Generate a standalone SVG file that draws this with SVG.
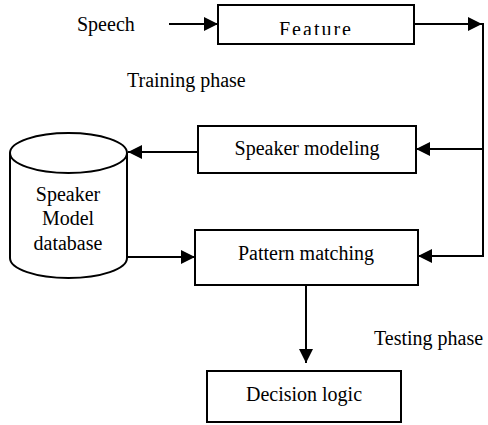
<svg xmlns="http://www.w3.org/2000/svg" width="488" height="425" viewBox="0 0 488 425">
  <style>
    .box { fill: #fff; stroke: #000; stroke-width: 2; }
    .wire { fill: none; stroke: #000; stroke-width: 2; }
    .lbl { font-family: "Liberation Serif", "Times New Roman", serif; font-size: 20px; fill: #000; }
    .mid { text-anchor: middle; }
  </style>
  <defs>
    <marker id="arrow" viewBox="0 0 14 14" refX="14" refY="7" markerWidth="14" markerHeight="14" markerUnits="userSpaceOnUse" orient="auto">
      <path d="M0,0 L14,7 L0,14 Z" fill="#000"/>
    </marker>
    <clipPath id="featureClip">
      <rect x="219" y="6" width="194" height="29"/>
    </clipPath>
  </defs>
  <rect width="488" height="425" fill="#fff"/>

  <!-- free labels -->
  <text class="lbl" x="77" y="31">Speech</text>
  <text class="lbl" x="127" y="87">Training phase</text>
  <text class="lbl" x="374" y="345">Testing phase</text>

  <g id="connectors">
    <line class="wire" x1="169" y1="24" x2="218" y2="24" marker-end="url(#arrow)"/>
    <line class="wire" x1="414" y1="24" x2="482" y2="24" marker-end="url(#arrow)"/>
    <line class="wire" x1="483" y1="23" x2="483" y2="257"/>
    <line class="wire" x1="484" y1="149" x2="416" y2="149" marker-end="url(#arrow)"/>
    <line class="wire" x1="484" y1="256" x2="418" y2="256" marker-end="url(#arrow)"/>
    <line class="wire" x1="198" y1="152" x2="128" y2="152" marker-end="url(#arrow)"/>
    <line class="wire" x1="128" y1="257" x2="195" y2="257" marker-end="url(#arrow)"/>
    <line class="wire" x1="306" y1="285" x2="306" y2="363" marker-end="url(#arrow)"/>
  </g>

  <g id="feature">
    <rect class="box" x="218" y="5" width="196" height="39"/>
    <text class="lbl mid" x="316" y="36" letter-spacing="2" clip-path="url(#featureClip)">Feature</text>
  </g>

  <g id="speaker-modeling">
    <rect class="box" x="198" y="126" width="218" height="47"/>
    <text class="lbl mid" x="307" y="155">Speaker modeling</text>
  </g>

  <g id="model-database">
    <path class="box" d="M10,153 L10,258 A58.5,20 0 0 0 127,258 L127,153 A58.5,20 0 0 0 10,153 Z"/>
    <path class="wire" d="M10,153 A58.5,20 0 0 0 127,153"/>
    <text class="lbl mid" x="68" y="201">Speaker</text>
    <text class="lbl mid" x="68" y="225">Model</text>
    <text class="lbl mid" x="68" y="250">database</text>
  </g>

  <g id="pattern-matching">
    <rect class="box" x="195" y="230" width="223" height="55"/>
    <text class="lbl mid" x="306" y="260">Pattern matching</text>
  </g>

  <g id="decision-logic">
    <rect class="box" x="207" y="371" width="194" height="51"/>
    <text class="lbl mid" x="304" y="401">Decision logic</text>
  </g>
</svg>
